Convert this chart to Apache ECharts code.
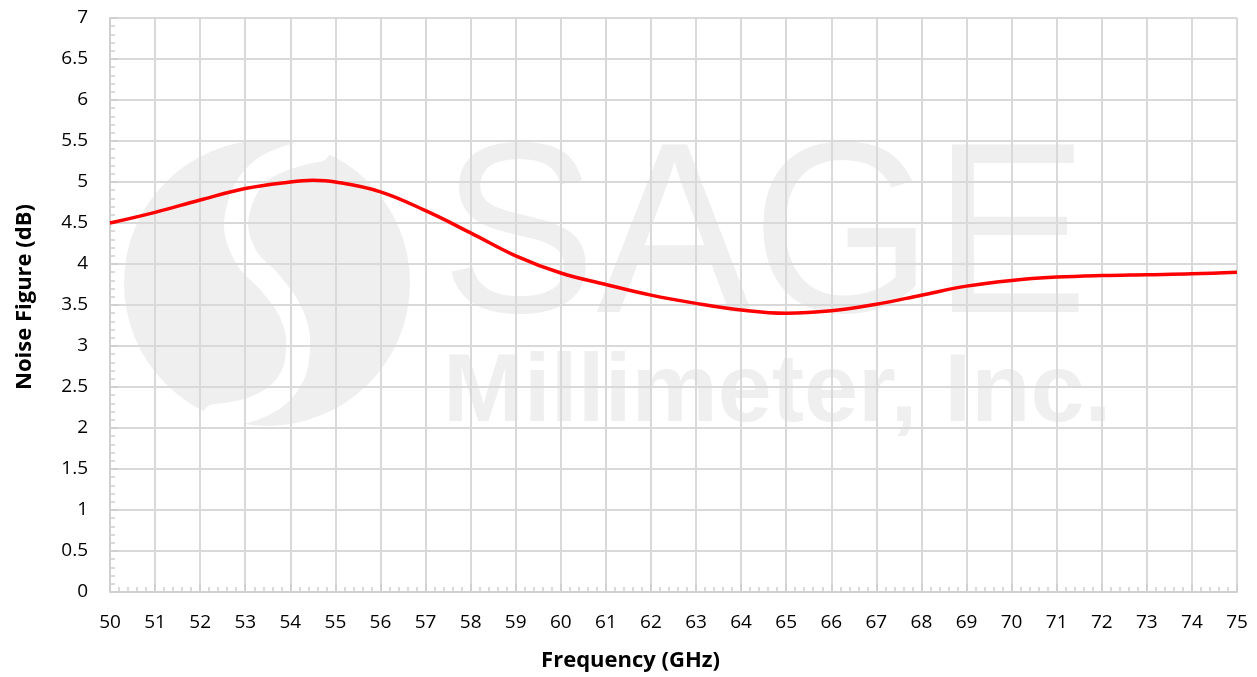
<!DOCTYPE html>
<html><head><meta charset="utf-8">
<script src="https://cdn.jsdelivr.net/npm/echarts@6/dist/echarts.min.js"></script>
<style>html,body{margin:0;padding:0;background:#fff}#c{width:1257px;height:677px}</style>
</head><body><div id="c"></div>
<script>
const freqGHz = [50,51,52,53,54,54.5,55,56,57,58,59,60,61,62,63,64,65,66,67,68,69,70,71,72,73,74,75];
const noiseFigure = [4.5,4.63,4.78,4.92,5.0,5.02,5.0,4.88,4.65,4.38,4.1,3.89,3.75,3.62,3.52,3.44,3.4,3.43,3.51,3.62,3.73,3.8,3.84,3.86,3.87,3.88,3.9];
const xTitle = 'Frequency (GHz)';
const yTitle = 'Noise Figure (dB)';
const wmBig = 'SAGE';
const wmSmall = 'Millimeter, Inc.';

const chart = echarts.init(document.getElementById('c'));
const font = "'Open Sans', 'Liberation Sans', sans-serif";
const wm = '#efefef';
chart.setOption({
  animation:false,
  backgroundColor:'#fff',
  grid:{left:110,right:20,top:18,bottom:85},
  graphic:[
    {type:'circle',z:0,silent:true,shape:{cx:267,cy:283,r:143},style:{fill:wm}},
    {type:'polyline',z:0,silent:true,shape:{smooth:0.4,points:[[318,150],[262,170],[237,215],[245,255],[272,285],[292,315],[298,350],[287,385],[255,408],[215,416]]},
      style:{stroke:'#fff',lineWidth:24,fill:null,lineCap:'round'}},
    {type:'text',z:0,silent:true,x:441,y:123,scaleX:0.955,style:{text:wmBig,fill:wm,font:"normal 244px 'Liberation Sans', sans-serif",verticalAlign:'top'}},
    {type:'text',z:0,silent:true,x:443,y:346,scaleX:1.0,style:{text:wmSmall,fill:wm,font:"bold 97px 'Liberation Sans', sans-serif",verticalAlign:'top'}}
  ],
  xAxis:{type:'value',min:50,max:75,interval:1,z:5,
    name:xTitle,nameLocation:'middle',nameGap:58,
    nameTextStyle:{fontFamily:font,fontWeight:'bold',fontSize:22,color:'#000',padding:[0,86,0,0]},
    axisLine:{lineStyle:{color:'#d0d0d0',width:2}},
    axisTick:{inside:true,length:8,lineStyle:{color:'#d0d0d0',width:2}},
    minorTick:{show:true,splitNumber:5,length:5,lineStyle:{color:'#d0d0d0',width:1.5}},
    axisLabel:{fontFamily:font,fontSize:19,color:'#000',margin:21},
    splitLine:{show:true,lineStyle:{color:'#d9d9d9',width:2}}},
  yAxis:{type:'value',min:0,max:7,interval:0.5,z:5,
    name:yTitle,nameLocation:'middle',nameGap:74,
    nameTextStyle:{fontFamily:font,fontWeight:'bold',fontSize:22,color:'#000',padding:[0,0,0,16]},
    axisLine:{show:true,lineStyle:{color:'#d0d0d0',width:2}},
    axisTick:{show:true,inside:true,length:8,lineStyle:{color:'#d0d0d0',width:2}},
    minorTick:{show:true,splitNumber:5,length:5,lineStyle:{color:'#d0d0d0',width:1.5}},
    axisLabel:{fontFamily:font,fontSize:19,color:'#000',margin:22},
    splitLine:{show:true,lineStyle:{color:'#d9d9d9',width:2}}},
  series:[{type:'line',z:10,data:freqGHz.map((f,i)=>[f,noiseFigure[i]]),smooth:0.4,
    showSymbol:false,lineStyle:{color:'#ff0000',width:3.5}}]
});
</script></body></html>
